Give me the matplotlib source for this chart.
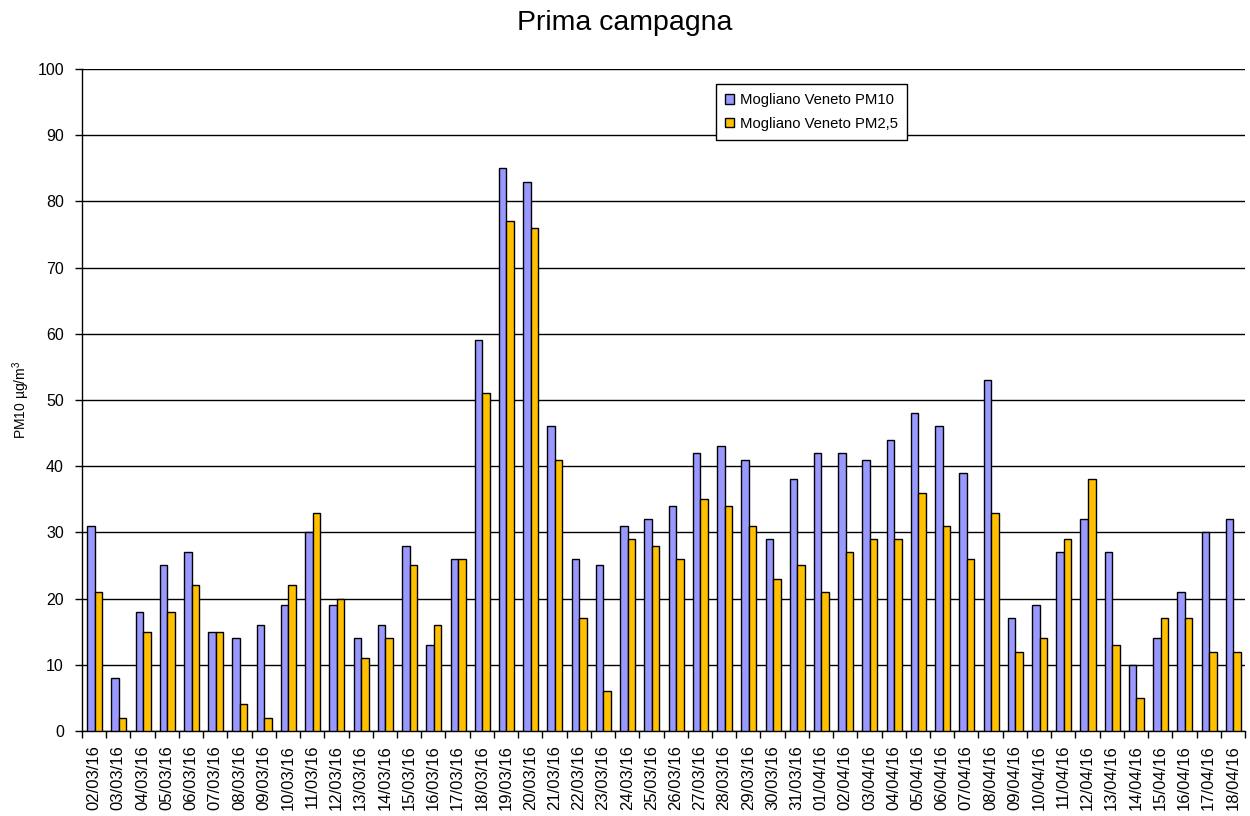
import numpy as np
import matplotlib
matplotlib.use('Agg')
from matplotlib import pyplot

pyplot.rcParams['font.family'] = ['Liberation Sans', 'DejaVu Sans']
pyplot.rcParams['mathtext.default'] = 'regular'

# date labels, 02/03/16 .. 18/04/16
dates = ['%02d/03/16' % d for d in range(2, 32)] + ['%02d/04/16' % d for d in range(1, 19)]

pm10 = [31, 8, 18, 25, 27, 15, 14, 16, 19, 30, 19, 14, 16, 28, 13, 26,
        59, 85, 83, 46, 26, 25, 31, 32, 34, 42, 43, 41, 29, 38, 42, 42,
        41, 44, 48, 46, 39, 53, 17, 19, 27, 32, 27, 10, 14, 21, 30, 32]
pm25 = [21, 2, 15, 18, 22, 15, 4, 2, 22, 33, 20, 11, 14, 25, 16, 26,
        51, 77, 76, 41, 17, 6, 29, 28, 26, 35, 34, 31, 23, 25, 21, 27,
        29, 29, 36, 31, 26, 33, 12, 14, 29, 38, 13, 5, 17, 17, 12, 12]

fig = pyplot.figure(figsize=(12.5, 8.16), dpi=100)
ax = fig.add_axes([0.0656, 0.1042, 0.9304, 0.8112])

ind = np.arange(len(dates))
width = 0.31
ax.bar(ind + 0.52 - width / 2, pm10, width, color='#9999FF', edgecolor='black',
       linewidth=1, label='Mogliano Veneto PM10', zorder=3)
ax.bar(ind + 0.52 + width / 2, pm25, width, color='#FFC000', edgecolor='black',
       linewidth=1, label='Mogliano Veneto PM2,5', zorder=3)

ax.set_xlim(0, len(dates))
ax.set_ylim(0, 100)
ax.set_yticks(np.arange(0, 101, 10))
ax.yaxis.grid(True, color='black', linewidth=1)
ax.set_axisbelow(True)

ax.set_xticks(ind + 0.5)
ax.set_xticklabels(dates, rotation=90, fontsize=12)
ax.set_xticks(np.arange(0, len(dates) + 1), minor=True)
ax.tick_params(axis='x', which='major', length=0, pad=10)
ax.tick_params(axis='x', which='minor', length=5, width=1, direction='out')
ax.tick_params(axis='y', labelsize=11.5, length=5, width=1, pad=8)

for s in ['top', 'right']:
    ax.spines[s].set_visible(False)
ax.spines['left'].set_linewidth(1)
ax.spines['bottom'].set_linewidth(1)

ax.set_ylabel('PM10 µg/m$^3$', fontsize=10, labelpad=4)

leg = ax.legend(loc='upper left', bbox_to_anchor=(0.545, 0.977), fontsize=10.7,
                fancybox=False, edgecolor='black', framealpha=1, borderaxespad=0,
                handlelength=0.6, handleheight=0.6, handletextpad=0.4,
                labelspacing=0.65, borderpad=0.6)
leg.get_frame().set_linewidth(1)

fig.suptitle('Prima campagna', fontsize=20.5, y=0.972, va='center')

pyplot.savefig('out.png', dpi=100)
pyplot.close()
